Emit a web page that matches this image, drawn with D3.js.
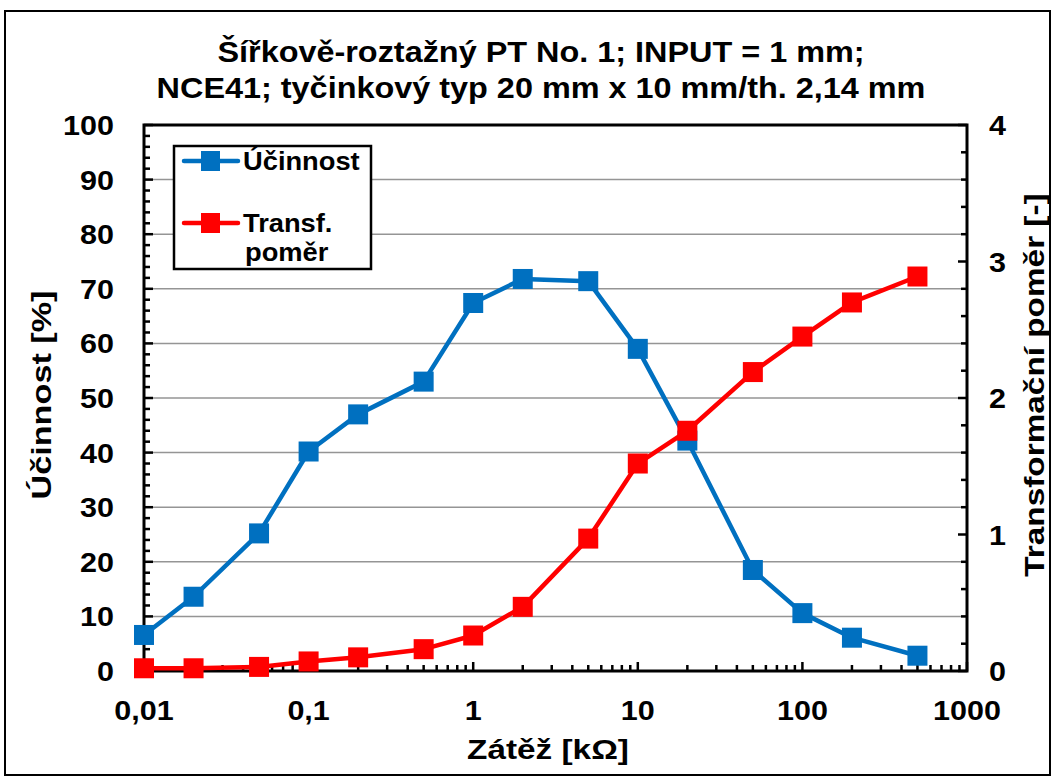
<!DOCTYPE html>
<html><head><meta charset="utf-8">
<script src="https://cdn.jsdelivr.net/npm/d3@7"></script>
<style>body{margin:0;background:#fff}text{font-family:"Liberation Sans",Arial,sans-serif;font-weight:bold}</style>
</head><body><svg id="c" width="1054" height="778"></svg>
<script>
const loads = [0.01,0.02,0.05,0.1,0.2,0.5,1,2,5,10,20,50,100,200,500];
const ucinnost = [6.6,13.6,25.2,40.2,47.0,53.0,67.4,71.8,71.4,59.0,42.2,18.5,10.6,6.1,2.8];
const transf = [0.02,0.02,0.03,0.07,0.10,0.16,0.26,0.47,0.97,1.52,1.76,2.19,2.45,2.70,2.89];
const xTicks = [0.01,0.1,1,10,100,1000];
const xTickLabels = ["0,01","0,1","1","10","100","1000"];
const yLeftTicks = [0,10,20,30,40,50,60,70,80,90,100];
const yRightTicks = [0,1,2,3,4];
const titleLines = ["Šířkově-roztažný PT No. 1; INPUT = 1 mm;","NCE41; tyčinkový typ 20 mm x 10 mm/th. 2,14 mm"];

const svg = d3.select("#c");
const L=144, R=967, T=125, B=671;
const x = d3.scaleLog().domain([0.01,1000]).range([L,R]);
const yl = d3.scaleLinear().domain([0,100]).range([B,T]);
const yr = d3.scaleLinear().domain([0,4]).range([B,T]);

function txt(g, tx, ty, s, fs, sx, anchor, rot){
  return g.append("text")
    .attr("transform",`translate(${tx},${ty})${rot?" rotate(-90)":""} scale(${sx},1)`)
    .attr("text-anchor",anchor).attr("font-size",fs).text(s);
}

svg.append("rect").attr("x",5).attr("y",11).attr("width",1045).attr("height",764).attr("fill","none").attr("stroke","#000").attr("stroke-width",2);

titleLines.forEach((t,i)=>txt(svg, 541, 62+i*36, t, 30, 1.08, "middle"));

// gridlines
svg.append("g").selectAll("line").data(yLeftTicks.filter(v=>v>0&&v<100)).join("line")
 .attr("x1",L).attr("x2",R).attr("y1",d=>yl(d)).attr("y2",d=>yl(d)).attr("stroke","#959595").attr("stroke-width",1.5);

// minor ticks left (every 2), inside
const leftMinor = d3.range(0,101,2);
svg.append("g").selectAll("line").data(leftMinor).join("line")
 .attr("x1",L).attr("x2",d=>L+(d%10===0?9:6)).attr("y1",d=>yl(d)).attr("y2",d=>yl(d)).attr("stroke","#000").attr("stroke-width",2.5);
// right ticks every 0.2
const rightMinor = d3.range(0,21).map(i=>i*0.2);
svg.append("g").selectAll("line").data(rightMinor).join("line")
 .attr("x1",R).attr("x2",(d,i)=>R-(i%5===0?9:6)).attr("y1",d=>yr(d)).attr("y2",d=>yr(d)).attr("stroke","#000").attr("stroke-width",2.5);
// x ticks log minor
const xMinor = [];
for (let e=-2;e<3;e++) for (let m=1;m<10;m++) xMinor.push({v:m*Math.pow(10,e),major:m===1});
xMinor.push({v:1000,major:true});
svg.append("g").selectAll("line").data(xMinor).join("line")
 .attr("x1",d=>x(d.v)).attr("x2",d=>x(d.v)).attr("y1",B).attr("y2",d=>B-(d.major?9:6)).attr("stroke","#000").attr("stroke-width",2.5);

// plot frame
svg.append("rect").attr("x",L).attr("y",T).attr("width",R-L).attr("height",B-T).attr("fill","none").attr("stroke","#000").attr("stroke-width",3);

// axis labels
const gl = svg.append("g");
yLeftTicks.forEach(d=>txt(gl, L-30, yl(d)+10, d, 27.5, 1.11, "end"));
yRightTicks.forEach(d=>txt(gl, R+22, yr(d)+10, d, 27.5, 1.11, "start"));
xTicks.forEach((d,i)=>txt(gl, x(d), 720, xTickLabels[i], 27.5, 1.11, "middle"));

txt(svg, 548, 759, "Zátěž [kΩ]", 28.5, 1.17, "middle");
txt(svg, 51, 395, "Účinnost [%]", 28.5, 1.2, "middle", true);
txt(svg, 1044, 385, "Transformační poměr [-]", 28.5, 1.17, "middle", true);

// series
const blue="#0070C0", red="#FF0000";
function series(vals, ys, color){
  const pts = loads.map((l,i)=>[x(l), ys(vals[i])]);
  svg.append("path").attr("d",d3.line()(pts)).attr("fill","none").attr("stroke",color).attr("stroke-width",4.5).attr("stroke-linejoin","round");
  svg.append("g").selectAll("rect").data(pts).join("rect").attr("x",d=>d[0]-10).attr("y",d=>d[1]-10).attr("width",20).attr("height",20).attr("fill",color);
}
series(ucinnost, yl, blue);
series(transf, yr, red);

// legend
const lg = svg.append("g");
lg.append("rect").attr("x",174).attr("y",146).attr("width",197).attr("height",123).attr("fill","#fff").attr("stroke","#000").attr("stroke-width",2.5);
const leg = [{c:blue,y:161,t:["Účinnost"]},{c:red,y:223,t:["Transf.","poměr"]}];
leg.forEach(e=>{
  lg.append("line").attr("x1",184).attr("x2",238).attr("y1",e.y).attr("y2",e.y).attr("stroke",e.c).attr("stroke-width",4.5).attr("stroke-linecap","round");
  lg.append("rect").attr("x",201).attr("y",e.y-10).attr("width",19).attr("height",20).attr("fill",e.c);
  e.t.forEach((t,i)=>txt(lg, i===0?243:245, e.y+9+i*29, t, 26, 1.05, "start"));
});
</script></body></html>
